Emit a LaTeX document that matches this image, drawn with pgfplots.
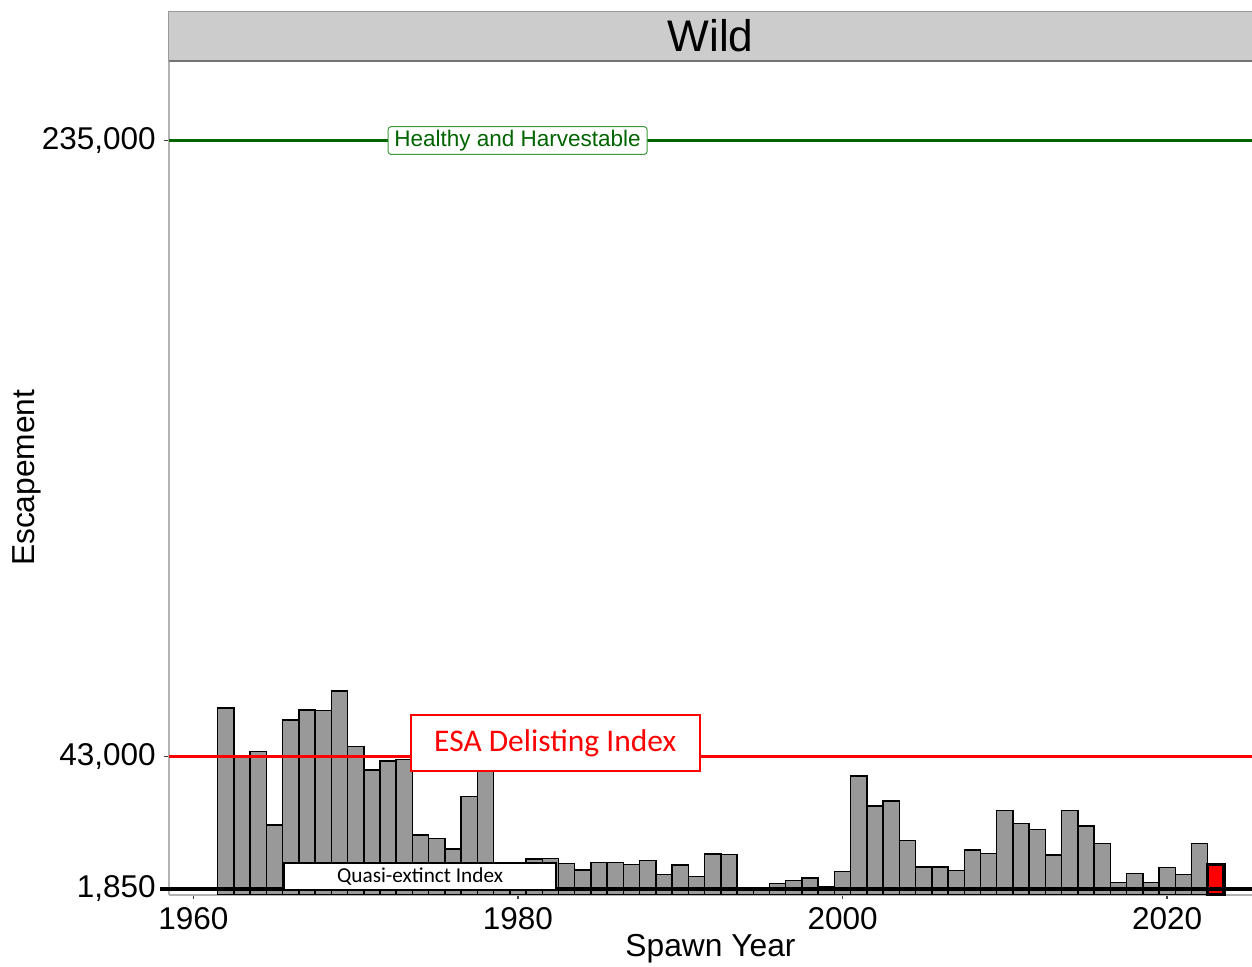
\documentclass[border=0pt]{standalone}
\usepackage{pgfplots}
\usepackage{pgfplotstable}
\pgfplotsset{compat=1.18}
\usepackage{fontspec}
\setmainfont{Liberation Sans}
\newfontfamily\calibri{Carlito}

\definecolor{barfill}{HTML}{999999}
\definecolor{panelgray}{HTML}{B3B3B3}
\definecolor{stripfill}{HTML}{CCCCCC}
\definecolor{hgreen}{HTML}{006400}
\definecolor{hgreenbox}{HTML}{3C9A3C}

% wild escapement by spawn year (2023 drawn separately in red)
\pgfplotstableread{
year esc
1962 58200
1963 43200
1964 44500
1965 21700
1966 54400
1967 57500
1968 57300
1969 63500
1970 46100
1971 38800
1972 41600
1973 42100
1974 18500
1975 17500
1976 14200
1977 30500
1978 41000
1979 7000
1980 7000
1981 11070
1982 11280
1983 9730
1984 7640
1985 10040
1986 10040
1987 9410
1988 10540
1989 6170
1990 9200
1991 5550
1992 12620
1993 12410
1994 1900
1995 1900
1996 3490
1997 4300
1998 5140
1999 2430
2000 7110
2001 36940
2002 27590
2003 29140
2004 16770
2005 8570
2006 8570
2007 7420
2008 13870
2009 12840
2010 26120
2011 22190
2012 20200
2013 12310
2014 26120
2015 21350
2016 15830
2017 3800
2018 6610
2019 3800
2020 8350
2021 6300
2022 15830
}\wild

\begin{document}
\begin{tikzpicture}
\begin{axis}[
    name=ax,
    width=433.2pt, height=333.4pt, scale only axis,
    xmin=1958.5, xmax=2025.23,
    ymin=0, ymax=259800,
    clip=false,
    axis lines=left,
    axis line style={panelgray, line width=0.8pt, -},
    xtick={1960,1980,2000,2020},
    xticklabels={1960,1980,2000,2020},
    ytick={1850,43000,235000},
    yticklabels={{1,850},{43,000},{235,000}},
    scaled y ticks=false,
    scaled x ticks=false,
    tick align=outside,
    major tick length=1.8pt,
    tick style={black!75, line width=0.6pt},
    ticklabel style={font=\fontsize{12.6}{14}\selectfont},
    every axis x label/.style={at={(axis description cs:0.5,0)}, yshift=-21.8pt, anchor=center},
    every axis y label/.style={at={(axis description cs:0,0.5)}, xshift=-56.8pt, rotate=90, anchor=center},
    label style={font=\fontsize{12.7}{14}\selectfont},
    xlabel={Spawn Year},
    ylabel={Escapement},
]

\addplot[ybar, bar width=1, bar shift=0pt, fill=barfill, draw=black, line width=0.6pt]
    table[x=year, y=esc] {\wild};
\addplot[ybar, bar width=1, bar shift=0pt, fill=red, draw=black, line width=1.3pt]
    coordinates {(2023,9300)};

\addplot[hgreen, line width=1.5pt] coordinates {(1958.5,235000) (2025.23,235000)};
\addplot[red, line width=1.3pt] coordinates {(1958.5,43000) (2025.23,43000)};
\addplot[black, line width=1.6pt] coordinates {(1957.95,1850) (2025.23,1850)};

\node[draw=hgreenbox, fill=white, rounded corners=1.2pt, line width=0.4pt, text=hgreen,
      font=\fontsize{9}{10}\selectfont, minimum width=103.6pt, minimum height=11.1pt, inner sep=0pt]
    at (axis cs:1979.98,235000) {Healthy and Harvestable};
\node[draw=red, fill=white, line width=0.8pt, text=red,
      font=\calibri\fontsize{12.6}{14}\selectfont, minimum width=115.6pt, minimum height=22.4pt, inner sep=0pt]
    at (axis cs:1982.3,47220) {ESA Delisting Index};
\node[draw=black, fill=white, line width=0.8pt,
      font=\calibri\fontsize{8.5}{10}\selectfont, minimum width=108.8pt, minimum height=11pt, inner sep=0pt]
    at (axis cs:1973.97,5670) {Quasi-extinct Index};

% facet strip
\fill[stripfill] (rel axis cs:0,1) rectangle ([yshift=20pt]rel axis cs:1,1);
\draw[black!40, line width=0.4pt] ([yshift=20pt]rel axis cs:0,1) -- ([yshift=20pt]rel axis cs:1,1);
\draw[black!55, line width=0.8pt] (rel axis cs:0,1) -- (rel axis cs:1,1);
\draw[black!40, line width=0.4pt] (rel axis cs:0,1) -- ([yshift=20pt]rel axis cs:0,1);
\node[font=\fontsize{17.7}{20}\selectfont] at ([yshift=10pt]rel axis cs:0.5,1) {Wild};
\end{axis}
\pgfresetboundingbox
\path[use as bounding box] ([xshift=-67.6pt,yshift=-28.6pt]ax.south west) rectangle ([yshift=24.4pt]ax.north east);
\end{tikzpicture}
\end{document}
